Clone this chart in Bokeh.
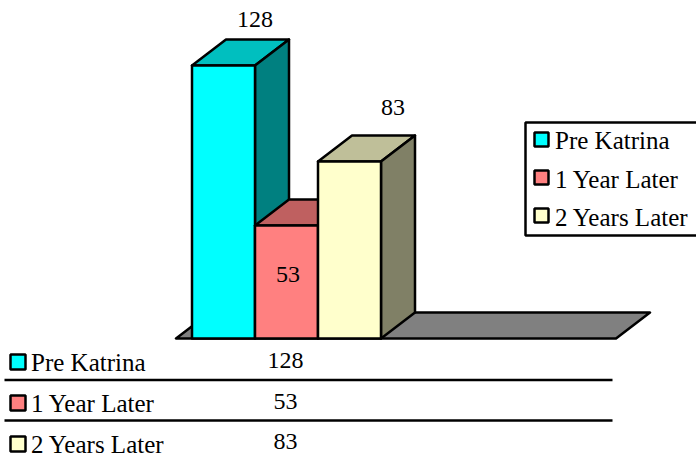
from bokeh.plotting import figure
from bokeh.models import Range1d
from bokeh.core.properties import value
from bokeh.embed import file_html
from bokeh.resources import INLINE

categories = ["Pre Katrina", "1 Year Later", "2 Years Later"]
values = [128, 53, 83]
front_colors = ["#00FFFF", "#FF8080", "#FFFFCC"]
top_colors = ["#00BFBF", "#BF6060", "#BFBF99"]
side_colors = ["#008080", "#804040", "#808066"]

# layout: picture pixels of the value-0 line and the first bar's left edge
PX_PER_UNIT_X = 63.0
PX_PER_UNIT_Y = 273.0 / 128.0
X0, Y0 = 191.5, 338.0
W, H = 696, 458
FONT = value("Liberation Serif")
FS_VALUE = "24px"
FS_NAME = "25px"


def X(px):
    return (px - X0) / PX_PER_UNIT_X


def Y(py):
    return (Y0 - py) / PX_PER_UNIT_Y


p = figure(width=W, height=H, output_backend="svg", toolbar_location=None,
           x_range=Range1d(X(0), X(W)), y_range=Range1d(Y(H), Y(0)),
           min_border=0, outline_line_color=None)
p.xaxis.visible = False
p.yaxis.visible = False
p.grid.visible = False
p.background_fill_color = "white"

DX = 34 / PX_PER_UNIT_X
DY = 26 / PX_PER_UNIT_Y
LW = 2.5


def poly(xs, ys, color):
    p.patch(xs, ys, fill_color=color, line_color="black", line_width=LW,
            line_join="round")


# floor
poly([X(175.5), X(615.5), X(649.5), X(209.5)], [0, 0, DY, DY], "#808080")

# bars
for i, v in enumerate(values):
    poly([i, i + 1, i + 1 + DX, i + DX], [v, v, v + DY, v + DY], top_colors[i])
    poly([i + 1, i + 1 + DX, i + 1 + DX, i + 1], [0, DY, v + DY, v], side_colors[i])
    poly([i, i + 1, i + 1, i], [0, 0, v, v], front_colors[i])


def label(px, py, s, align="left", size=FS_VALUE):
    # py is the vertical middle of the text line
    p.text([X(px)], [Y(py)], text=[s], text_font=FONT, text_font_size=size,
           text_color="black", text_align=align, text_baseline="middle")


# value labels on the bars
label(254.5, 18.5, str(values[0]), "center")
label(287.5, 274, str(values[1]), "center")
label(392.5, 107, str(values[2]), "center")

# legend box
p.quad(left=[X(525)], right=[X(700)], top=[Y(122)], bottom=[Y(235)],
       fill_color="white", line_color="black", line_width=LW)
for name, col, sy, my in zip(categories, front_colors, [132, 170, 208], [140, 179, 217]):
    p.quad(left=[X(534)], right=[X(548)], top=[Y(sy)], bottom=[Y(sy + 14)],
           fill_color=col, line_color="black", line_width=LW)
    label(554.5, my, name, size=FS_NAME)

# data table
for ly in [379.5, 420]:
    p.line([X(4), X(612)], [Y(ly), Y(ly)], line_color="black", line_width=LW)
for i, (name, col, sy, my, vy) in enumerate(zip(categories, front_colors,
                                                [354, 395, 436], [361.5, 402.5, 443.5],
                                                [360, 401, 441])):
    p.quad(left=[X(10)], right=[X(25)], top=[Y(sy)], bottom=[Y(sy + 15)],
           fill_color=col, line_color="black", line_width=LW)
    label(30.5, my, name, size=FS_NAME)
    label(285, vy, str(values[i]), "center")

open("out.html", "w").write(file_html(p, INLINE))
